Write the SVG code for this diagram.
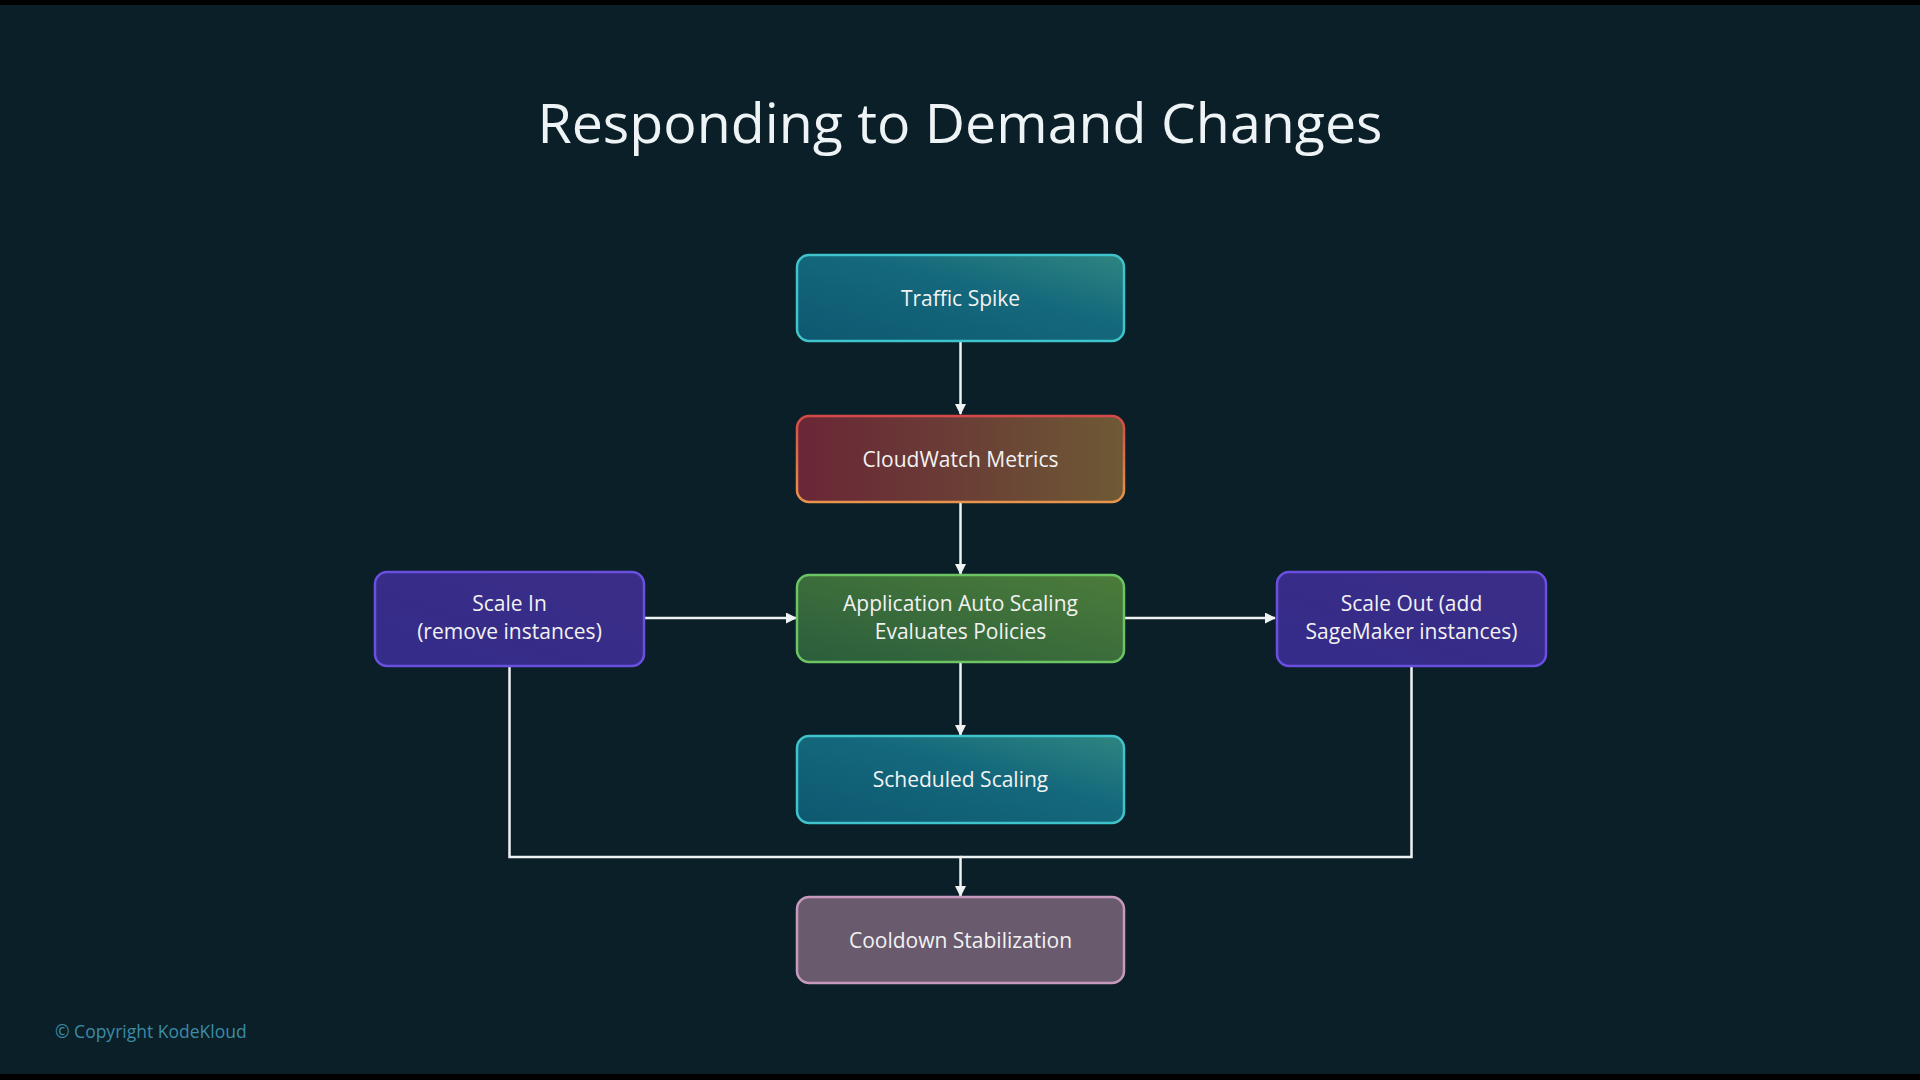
<svg xmlns="http://www.w3.org/2000/svg" width="1920" height="1080" viewBox="0 0 1920 1080">
<style>
.bg{fill:#0b1f28}
.title{font-family:"Open Sans","Noto Sans",sans-serif;font-size:55.5px;fill:#eef3f5;text-anchor:middle}
.lbl{font-family:"Open Sans","Noto Sans",sans-serif;font-size:21px;fill:#f2f2f2;text-anchor:middle}
.copy{font-family:"Open Sans","Noto Sans",sans-serif;font-size:17.5px;fill:#3b8ca6}
.node{stroke-width:2.5}
.conn{fill:none;stroke:#eef2f3;stroke-width:2.5}
</style>
<defs>
<linearGradient id="gTeal" x1="0" y1="1" x2="1" y2="0">
<stop offset="0" stop-color="#0d5870"/><stop offset="0.6" stop-color="#15697c"/><stop offset="1" stop-color="#2e8580"/>
</linearGradient>
<linearGradient id="gRed" x1="0" y1="0" x2="1" y2="0">
<stop offset="0" stop-color="#6a2636"/><stop offset="0.5" stop-color="#6a3e36"/><stop offset="1" stop-color="#6e5a34"/>
</linearGradient>
<linearGradient id="sRed" x1="0" y1="0" x2="0" y2="1">
<stop offset="0" stop-color="#d44a48"/><stop offset="1" stop-color="#e8944c"/>
</linearGradient>
<linearGradient id="gGreen" x1="0" y1="1" x2="1" y2="0">
<stop offset="0" stop-color="#2a5e3c"/><stop offset="1" stop-color="#4c7c3a"/>
</linearGradient>
<linearGradient id="gPurple" x1="0" y1="1" x2="1" y2="0">
<stop offset="0" stop-color="#342c8a"/><stop offset="1" stop-color="#3a2d86"/>
</linearGradient>
<marker id="arr" markerWidth="11" markerHeight="11" refX="10" refY="5.5" orient="auto" markerUnits="userSpaceOnUse">
<path d="M0,0 L11,5.5 L0,11 Z" fill="#eef2f3"/>
</marker>
</defs>
<rect class="bg" x="0" y="0" width="1920" height="1080"/>
<rect x="0" y="0" width="1920" height="5" fill="#000"/>
<rect x="0" y="1074" width="1920" height="6" fill="#000"/>
<text class="title" x="960" y="143">Responding to Demand Changes</text>
<g id="connectors">
<path class="conn" d="M960.5,341 V414" marker-end="url(#arr)"/>
<path class="conn" d="M960.5,502 V574" marker-end="url(#arr)"/>
<path class="conn" d="M960.5,662 V735" marker-end="url(#arr)"/>
<path class="conn" d="M645,618 H796" marker-end="url(#arr)"/>
<path class="conn" d="M1124,618 H1275" marker-end="url(#arr)"/>
<path class="conn" d="M509.5,667 V857 H960.5 V896" marker-end="url(#arr)"/>
<path class="conn" d="M1411.5,667 V857 H960.5"/>
</g>
<g id="traffic-spike">
<rect class="node" x="797" y="255" width="327" height="86" rx="12" fill="url(#gTeal)" stroke="#3fc4cc"/>
<text class="lbl" x="960.5" y="306">Traffic Spike</text>
</g>
<g id="cloudwatch-metrics">
<rect class="node" x="797" y="416" width="327" height="86" rx="12" fill="url(#gRed)" stroke="url(#sRed)"/>
<text class="lbl" x="960.5" y="467">CloudWatch Metrics</text>
</g>
<g id="app-auto-scaling">
<rect class="node" x="797" y="575" width="327" height="87" rx="12" fill="url(#gGreen)" stroke="#6cc462"/>
<text class="lbl" x="960.5" y="611">Application Auto Scaling</text>
<text class="lbl" x="960.5" y="639">Evaluates Policies</text>
</g>
<g id="scheduled-scaling">
<rect class="node" x="797" y="736" width="327" height="87" rx="12" fill="url(#gTeal)" stroke="#3fc4cc"/>
<text class="lbl" x="960.5" y="787">Scheduled Scaling</text>
</g>
<g id="scale-in">
<rect class="node" x="375" y="572" width="269" height="94" rx="12" fill="url(#gPurple)" stroke="#6a4fe0"/>
<text class="lbl" x="509.5" y="611">Scale In</text>
<text class="lbl" x="509.5" y="639">(remove instances)</text>
</g>
<g id="scale-out">
<rect class="node" x="1277" y="572" width="269" height="94" rx="12" fill="url(#gPurple)" stroke="#6a4fe0"/>
<text class="lbl" x="1411.5" y="611">Scale Out (add</text>
<text class="lbl" x="1411.5" y="639">SageMaker instances)</text>
</g>
<g id="cooldown-stabilization">
<rect class="node" x="797" y="897" width="327" height="86" rx="12" fill="#6a5a6e" stroke="#c69abf"/>
<text class="lbl" x="960.5" y="948">Cooldown Stabilization</text>
</g>
<text class="copy" x="55" y="1038">© Copyright KodeKloud</text>
</svg>
